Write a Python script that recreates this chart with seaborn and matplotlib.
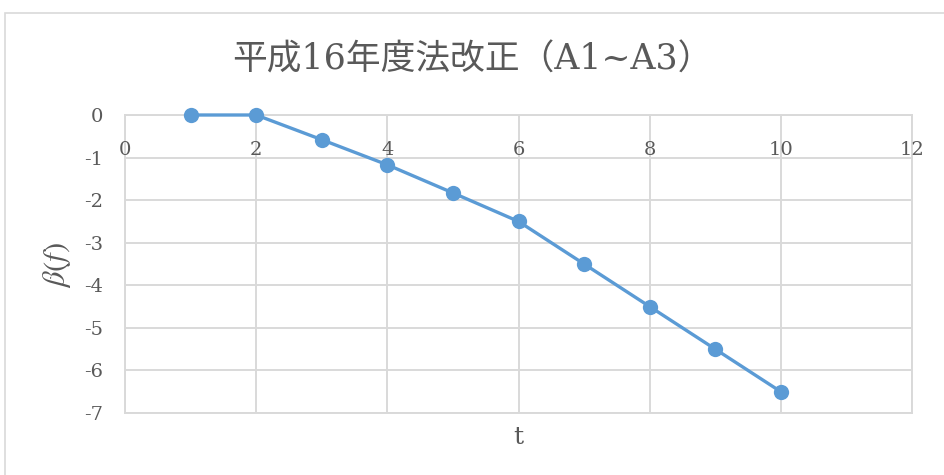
import matplotlib
matplotlib.use("Agg")
import matplotlib.pyplot as plt
from matplotlib.patches import Rectangle
import seaborn as sns
import pandas as pd

# Series values
t_values = [1, 2, 3, 4, 5, 6, 7, 8, 9, 10]
beta_values = [0.0, 0.0, -0.58, -1.17, -1.83, -2.5, -3.5, -4.5, -5.5, -6.5]
x_ticks = [0, 2, 4, 6, 8, 10, 12]
y_ticks = [0, -1, -2, -3, -4, -5, -6, -7]

title_text = "平成16年度法改正（A1~A3）"
x_label = "t"
y_label = r"$\beta(f)$"

sns.set_theme(style="white")
plt.rcParams["font.family"] = ["DejaVu Serif", "Noto Sans CJK JP", "DejaVu Sans"]
plt.rcParams["mathtext.fontset"] = "stix"

text_color = "#595959"
grid_color = "#d9d9d9"
line_color = "#5b9bd5"

df = pd.DataFrame({"t": t_values, "beta": beta_values})

fig = plt.figure(figsize=(9.44, 4.75), dpi=100)
fig.patch.set_facecolor("white")
ax = fig.add_axes([125 / 944, 1 - 413 / 475, (912 - 125) / 944, (413 - 115) / 475])

# Chart area border
fig.patches.append(Rectangle((5 / 944, -0.05), 1.2, 1 - 13 / 475 + 0.05,
                             transform=fig.transFigure, fill=False,
                             edgecolor=grid_color, linewidth=1.2, zorder=0))

sns.lineplot(data=df, x="t", y="beta", ax=ax, color=line_color, linewidth=2.4,
             marker="o", markersize=11, markeredgewidth=0, zorder=5, clip_on=False)

ax.set_xlim(0, 12)
ax.set_ylim(-7, 0)
ax.set_xticks(x_ticks)
ax.set_yticks(y_ticks)
ax.set_yticklabels([str(v) for v in y_ticks])
ax.grid(True, color=grid_color, linewidth=1.4)
ax.set_axisbelow(True)

for side in ["left", "right", "top", "bottom"]:
    ax.spines[side].set_visible(True)
    ax.spines[side].set_color(grid_color)
    ax.spines[side].set_linewidth(1.4)

ax.tick_params(axis="both", length=0, labelsize=14, labelcolor=text_color)
ax.tick_params(axis="y", pad=16)
# x tick labels sit just under the zero line at the top of the plot
ax.xaxis.set_tick_params(labeltop=False, labelbottom=False)
for x in x_ticks:
    ax.text(x, -0.6, str(x), ha="center", va="top", fontsize=14, color=text_color)

ax.set_xlabel("")
ax.set_ylabel("")
fig.text(57 / 944, 1 - 265 / 475, y_label, rotation=90, ha="center", va="center",
         fontsize=22, color=text_color)
fig.text(518 / 944, 1 - 437 / 475, x_label, ha="center", va="center",
         fontsize=18, color=text_color)

fig.text(472 / 944, 1 - 60 / 475, title_text, ha="center", va="center",
         fontsize=25, color=text_color)

fig.savefig("out.png", dpi=100, facecolor="white")
